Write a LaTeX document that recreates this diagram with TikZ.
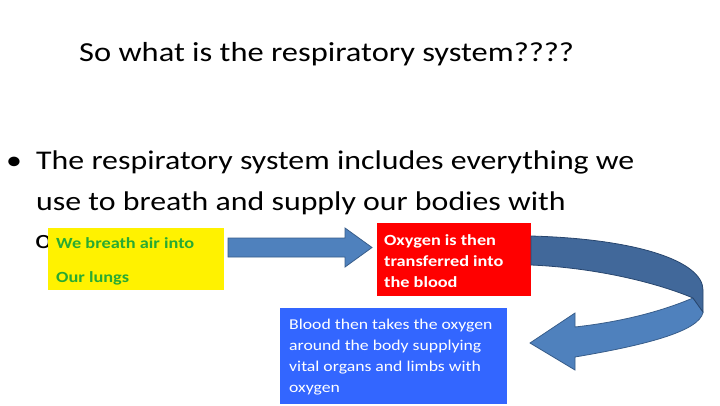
\documentclass[tikz,border=0pt]{standalone}
\usepackage{fontspec}
\setmainfont{Carlito}
\definecolor{greentxt}{RGB}{40,170,50}
\definecolor{arrowblue}{RGB}{79,129,189}
\definecolor{arrowline}{RGB}{56,93,138}
\definecolor{darkband}{RGB}{65,104,154}
\definecolor{darkline}{RGB}{40,70,110}
\definecolor{boxred}{RGB}{255,0,0}
\definecolor{boxblue}{RGB}{51,102,255}
\newcommand{\widetxt}[1]{\scalebox{1.18}[1]{#1}}
\begin{document}
\begin{tikzpicture}[x=1pt,y=-1pt,
  txt/.style={inner sep=0pt,anchor=base west},
  bodytxt/.style={txt,font=\fontsize{27}{32}\selectfont},
  smallbold/.style={txt,font=\fontsize{15.5}{18}\selectfont\bfseries},
  small/.style={txt,font=\fontsize{15}{18}\selectfont,text=white},
  boxnode/.style={inner sep=0pt,anchor=north west,draw=none},
  arrowfill/.style={fill=arrowblue,draw=arrowline,line width=0.8pt,line join=miter},
  darkfill/.style={fill=darkband,draw=darkline,line width=0.8pt}]
\useasboundingbox (0,0) rectangle (720,405);
\fill[white] (0,0) rectangle (720,405);
% title
\node[txt,font=\fontsize{27.5}{32}\selectfont] (title) at (79,61) {\widetxt{So what is the respiratory system????}};
% bullet text
\node[bodytxt] (bul) at (6,169) {\widetxt{•}};
\node[bodytxt] (l1) at (36,169) {\widetxt{The respiratory system includes everything we}};
\node[bodytxt] (l2) at (36,210) {\widetxt{use to breath and supply our bodies with}};
\node[bodytxt] (l3) at (35,248) {\widetxt{o}};
% yellow box
\node[boxnode,fill=yellow,minimum width=176pt,minimum height=62pt] (ybox) at (48,228) {};
\node[smallbold,text=greentxt] (y1) at (56,248) {\widetxt{We breath air into}};
\node[smallbold,text=greentxt] (y2) at (56,282) {\widetxt{Our lungs}};
% straight block arrow
\draw[arrowfill] (228,238) -- (345,238) -- (345,228) -- (372,247.5) -- (345,267) -- (345,257) -- (228,257) -- cycle;
% red box
\node[boxnode,fill=boxred,minimum width=154pt,minimum height=73pt] (rbox) at (377,223) {};
\node[smallbold,text=white] (r1) at (384,245) {\widetxt{Oxygen is then}};
\node[smallbold,text=white] (r2) at (384,266) {\widetxt{transferred into}};
\node[smallbold,text=white] (r3) at (384,287) {\widetxt{the blood}};
% blue box
\node[boxnode,fill=boxblue,minimum width=227pt,minimum height=96pt] (bbox) at (280,308) {};
\node[small] (b1) at (289,329) {\widetxt{Blood then takes the oxygen}};
\node[small] (b2) at (289,350.5) {\widetxt{around the body supplying}};
\node[small] (b3) at (289,371.5) {\widetxt{vital organs and limbs with}};
\node[small] (b4) at (289,392.5) {\widetxt{oxygen}};
% curved arrow: front (light) band
\draw[arrowfill] (693,298) .. controls (660,312) and (620,322) .. (575,327) -- (575,313) -- (530,343) -- (575,370) -- (575,357) .. controls (640,346) and (700,332) .. (703,312) -- cycle;
% back (dark) band
\draw[darkfill] (531,236) .. controls (640,239) and (703,262) .. (703,290) -- (703,312) -- (693,298) .. controls (660,284) and (600,268) .. (531,265) -- cycle;
\end{tikzpicture}
\end{document}
